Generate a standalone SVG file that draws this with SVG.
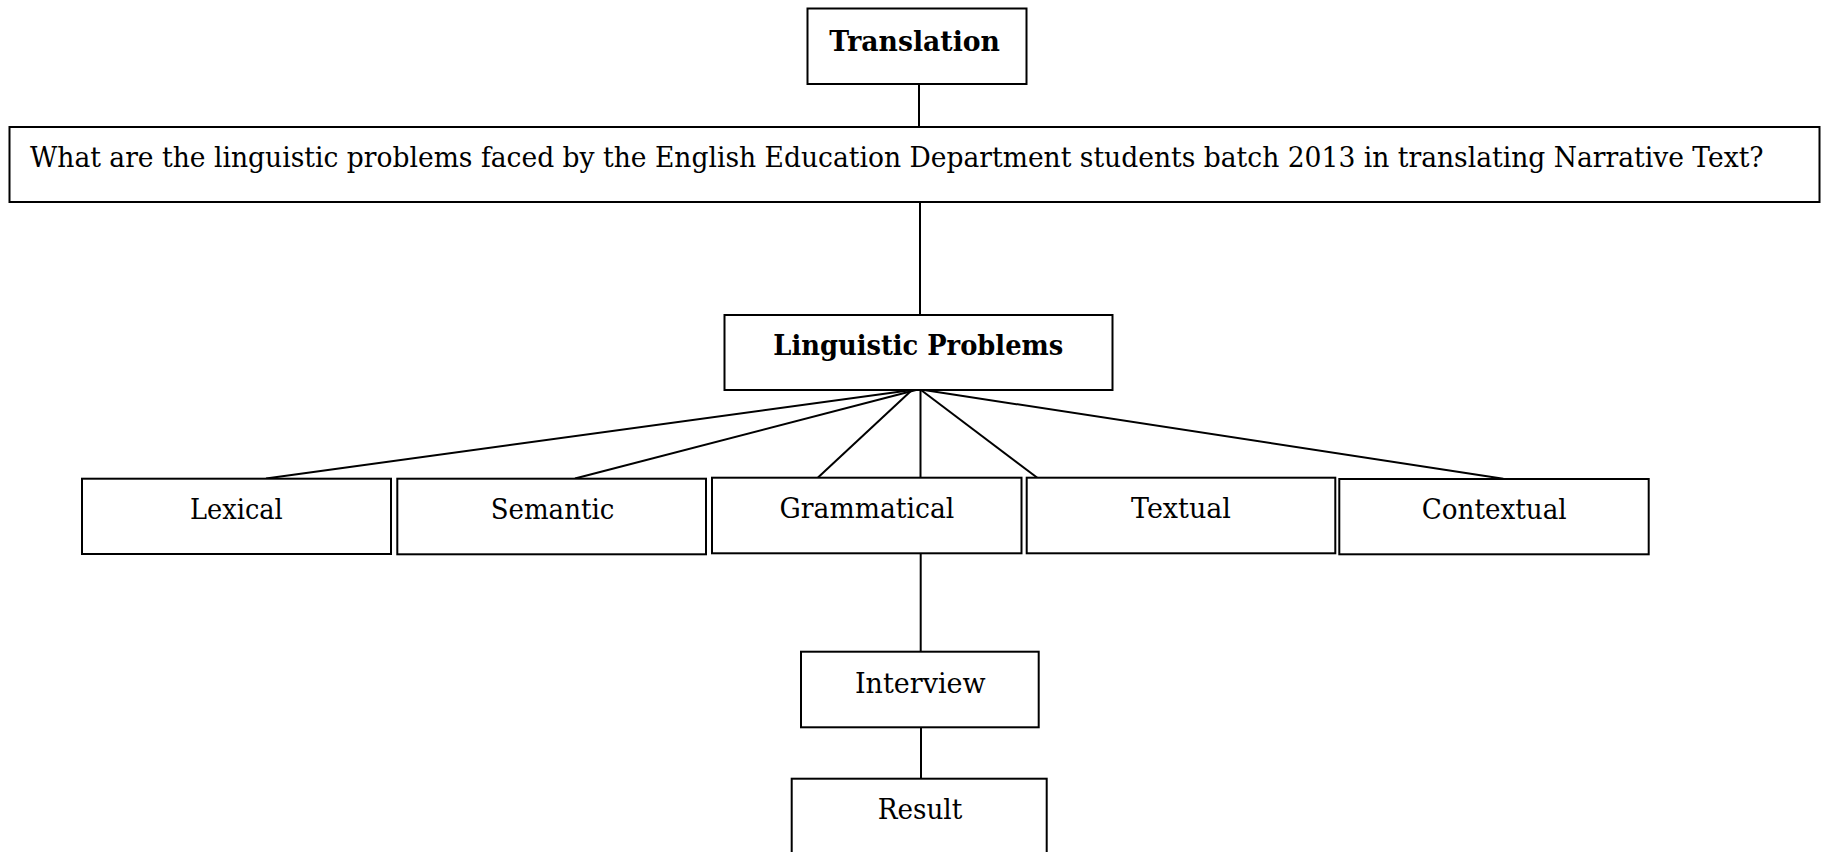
<svg xmlns="http://www.w3.org/2000/svg" width="1827" height="852" viewBox="0 0 1827 852">
<style>
.box{fill:#fff;stroke:#000;stroke-width:2}
.ln{stroke:#000;stroke-width:2;fill:none}
.t{font-family:"DejaVu Serif","Liberation Serif",serif;font-size:28px;fill:#000}
.b{font-weight:bold}
.m{text-anchor:middle}
</style>
<rect width="1827" height="852" fill="#fff"/>
<g id="connectors">
<line class="ln" x1="919" y1="84" x2="919" y2="127"/>
<line class="ln" x1="920" y1="202" x2="920" y2="315"/>
<line class="ln" x1="912" y1="390" x2="266" y2="478.5"/>
<line class="ln" x1="916" y1="390" x2="575" y2="478.5"/>
<line class="ln" x1="912" y1="390" x2="818" y2="477.5"/>
<line class="ln" x1="920.5" y1="390" x2="920.5" y2="477.5"/>
<line class="ln" x1="921" y1="390" x2="1037.3" y2="477.7"/>
<line class="ln" x1="924" y1="390" x2="1503.3" y2="478.7"/>
<line class="ln" x1="920.7" y1="553.3" x2="920.7" y2="651.7"/>
<line class="ln" x1="921" y1="727.3" x2="921" y2="778.7"/>
</g>
<g id="translation">
<rect class="box" x="807.5" y="8.5" width="219" height="75.5"/>
<text class="t b m" x="914.6" y="50.7" textLength="170.7" lengthAdjust="spacingAndGlyphs">Translation</text>
</g>
<g id="question">
<rect class="box" x="9.5" y="127" width="1810" height="75"/>
<text class="t" transform="translate(30,167) scale(0.88,1)" x="0" y="0" textLength="1970" lengthAdjust="spacingAndGlyphs">What are the linguistic problems faced by the English Education Department students batch 2013 in translating Narrative Text?</text>
</g>
<g id="linguistic-problems">
<rect class="box" x="724.5" y="315" width="388" height="75"/>
<text class="t b m" x="918.3" y="355" textLength="290" lengthAdjust="spacingAndGlyphs">Linguistic Problems</text>
</g>
<g id="lexical">
<rect class="box" x="82" y="478.7" width="309" height="75.3"/>
<text class="t m" x="236.4" y="519.3" textLength="92.7" lengthAdjust="spacingAndGlyphs">Lexical</text>
</g>
<g id="semantic">
<rect class="box" x="397.3" y="478.7" width="308.7" height="75.6"/>
<text class="t m" x="552.5" y="519.3" textLength="123.6" lengthAdjust="spacingAndGlyphs">Semantic</text>
</g>
<g id="grammatical">
<rect class="box" x="712" y="477.7" width="309.5" height="75.6"/>
<text class="t m" x="866.9" y="518.3" textLength="174.8" lengthAdjust="spacingAndGlyphs">Grammatical</text>
</g>
<g id="textual">
<rect class="box" x="1026.7" y="477.7" width="308.6" height="75.6"/>
<text class="t m" x="1181" y="518.3" textLength="100" lengthAdjust="spacingAndGlyphs">Textual</text>
</g>
<g id="contextual">
<rect class="box" x="1339.3" y="479" width="309.4" height="75.3"/>
<text class="t m" x="1494.2" y="519.3" textLength="145" lengthAdjust="spacingAndGlyphs">Contextual</text>
</g>
<g id="interview">
<rect class="box" x="801" y="651.7" width="237.7" height="75.6"/>
<text class="t m" x="920.3" y="693.3" textLength="130.7" lengthAdjust="spacingAndGlyphs">Interview</text>
</g>
<g id="result">
<rect class="box" x="791.7" y="778.7" width="255" height="100"/>
<text class="t m" x="920" y="819.3" textLength="84.6" lengthAdjust="spacingAndGlyphs">Result</text>
</g>
</svg>
